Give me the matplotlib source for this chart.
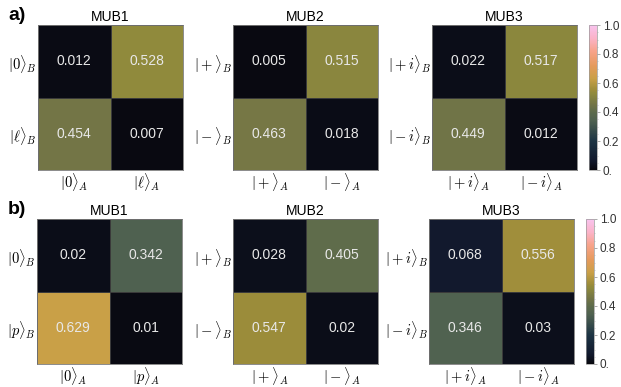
import numpy as np
import matplotlib
matplotlib.use("Agg")
import matplotlib.pyplot as plt
from matplotlib.colors import LinearSegmentedColormap

plt.rcParams["font.family"] = ["Liberation Sans", "DejaVu Sans"]
plt.rcParams["mathtext.fontset"] = "cm"

# measured probabilities, rows = Bob's outcome, columns = Alice's outcome
titles = ["MUB1", "MUB2", "MUB3"]

a_mub1 = [[0.012, 0.528], [0.454, 0.007]]
a_mub2 = [[0.005, 0.515], [0.463, 0.018]]
a_mub3 = [[0.022, 0.517], [0.449, 0.012]]

b_mub1 = [[0.02, 0.342], [0.629, 0.01]]
b_mub2 = [[0.028, 0.405], [0.547, 0.02]]
b_mub3 = [[0.068, 0.556], [0.346, 0.03]]

a_states = [("0", r"\ell"), ("+", "-"), ("+i", "-i")]
b_states = [("0", "p"), ("+", "-"), ("+i", "-i")]

cbar_ticks = [0.0, 0.2, 0.4, 0.6, 0.8, 1.0]
cbar_labels = ["0.", "0.2", "0.4", "0.6", "0.8", "1.0"]

# cubehelix-like map: black -> navy -> olive -> gold -> salmon -> pink
cmap = LinearSegmentedColormap.from_list("helix", [
    (0.00, "#08080f"), (0.07, "#121a2e"), (0.20, "#1d3444"),
    (0.34, "#4f6150"), (0.40, "#5d6b4b"), (0.454, "#737546"),
    (0.528, "#8f8a3c"), (0.55, "#9c8c3a"), (0.63, "#c9a047"),
    (0.72, "#e59a5c"), (0.82, "#f7a38a"), (0.91, "#fbb3c8"),
    (1.00, "#f8c3ee")])

W, H = 621, 387
fig = plt.figure(figsize=(W / 100, H / 100), dpi=100)


def px_axes(x0, y0, x1, y1):
    return fig.add_axes([x0 / W, 1 - y1 / H, (x1 - x0) / W, (y1 - y0) / H])


def draw_block(mats, states, top, lefts, cbar_x):
    mesh = None
    for mat, st, title, left in zip(mats, states, titles, lefts):
        ax = px_axes(left, top, left + 145, top + 145)
        data = np.array(mat)
        mesh = ax.pcolormesh(data, cmap=cmap, vmin=0, vmax=1,
                             edgecolors="#3a3a3a", linewidth=0.4)
        ax.set_xlim(0, 2)
        ax.set_ylim(2, 0)
        for i in range(2):
            for j in range(2):
                ax.text(j + 0.5, i + 0.5, f"{data[i, j]:g}", ha="center",
                        va="center", color="#e8e8e8", fontsize=10)
        ax.set_xticks([0.5, 1.5])
        ax.set_yticks([0.5, 1.5])
        ax.set_xticklabels([rf"$|{s}\rangle_A$" for s in st], fontsize=10.5)
        ax.set_yticklabels([rf"$|{s}\rangle_B$" for s in st], fontsize=10.5)
        ax.tick_params(length=0, pad=1)
        for sp in ax.spines.values():
            sp.set_color("#777777")
            sp.set_linewidth(0.6)
        ax.set_title(title, fontsize=10, pad=3)
    cax = px_axes(cbar_x, top, cbar_x + 8, top + 145)
    cb = fig.colorbar(mesh, cax=cax, ticks=cbar_ticks)
    cb.ax.set_yticklabels(cbar_labels, fontsize=8.5, color="#333333")
    cb.ax.tick_params(length=2, width=0.5, color="#888888", pad=2)
    cb.ax.minorticks_on()
    cb.ax.tick_params(which="minor", length=1, width=0.4, color="#aaaaaa")
    cb.outline.set_edgecolor("#999999")
    cb.outline.set_linewidth(0.5)


draw_block([a_mub1, a_mub2, a_mub3], a_states, 25, [38, 233, 432], 589)
draw_block([b_mub1, b_mub2, b_mub3], b_states, 219, [37, 233, 429], 586)

fig.text(8 / W, 1 - 15 / H, "a)", fontsize=14, fontweight="bold", va="center")
fig.text(8 / W, 1 - 209 / H, "b)", fontsize=14, fontweight="bold", va="center")

fig.savefig("out.png", dpi=100)
